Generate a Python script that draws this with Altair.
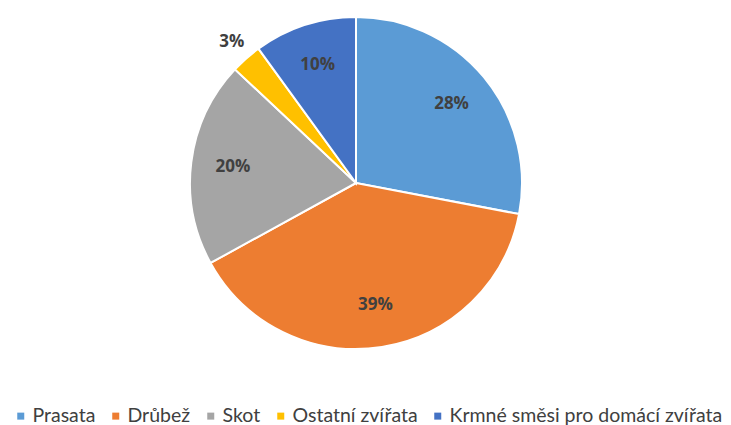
import altair as alt
import pandas as pd
import math

categories = ["Prasata", "Drůbež", "Skot", "Ostatní zvířata", "Krmné směsi pro domácí zvířata"]
values = [28, 39, 20, 3, 10]
labels = ["28%", "39%", "20%", "3%", "10%"]
colors = ["#5B9BD5", "#ED7D31", "#A5A5A5", "#FFC000", "#4472C4"]

df = pd.DataFrame({
    "cat": categories,
    "value": values,
    "label": labels,
    "order": list(range(len(categories))),
})

R = 166
total = sum(values)

pie = alt.Chart(df).mark_arc(outerRadius=R, stroke="white", strokeWidth=2).encode(
    theta=alt.Theta("value:Q", stack=True),
    order=alt.Order("order:Q"),
    color=alt.Color(
        "cat:N",
        sort=categories,
        scale=alt.Scale(domain=categories, range=colors),
        legend=alt.Legend(
            title=None,
            orient="none",
            legendX=3,
            legendY=391,
            direction="horizontal",
            columns=5,
            symbolType="square",
            symbolSize=49,
            symbolStrokeWidth=0,
            labelFont="Lato",
            labelFontSize=19.5,
            labelColor="#404040",
            columnPadding=10,
            labelOffset=2,
            labelLimit=400,
            padding=0,
        ),
    ),
)

text = (
    alt.Chart(df)
    .transform_window(cum="sum(value)", sort=[alt.SortField("order")], frame=[None, 0])
    .transform_calculate(
        mid="datum.cum - datum.value / 2",
        lr="datum.value < 5 ? 188 : 124",
    )
    .mark_text(font="Open Sans", fontSize=17, fontWeight="bold", color="#404040")
    .encode(
        theta=alt.Theta("mid:Q", stack=None, scale=alt.Scale(domain=[0, total], range=[0, 2 * math.pi])),
        radius=alt.Radius("lr:Q", scale=None),
        text="label:N",
    )
)

chart = (
    (pie + text)
    .resolve_scale(theta="independent")
    .properties(width=696, height=336, padding={"left": 0, "top": 5, "right": 0, "bottom": 0})
    .configure_view(stroke=None)
)

chart.save("out.html", embed_options={"renderer": "svg", "actions": False})
